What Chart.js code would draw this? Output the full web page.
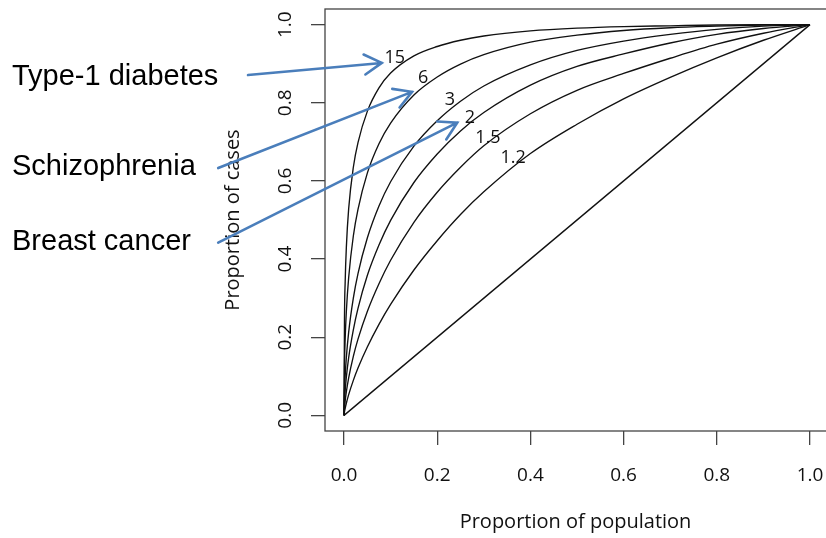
<!DOCTYPE html>
<html>
<head>
<meta charset="utf-8">
<script src="https://cdn.jsdelivr.net/npm/chart.js@4"></script>
<style>
  body { margin: 0; background: #fff; }
  canvas { display: block; }
</style>
</head>
<body>
<canvas id="roc" width="826" height="538"></canvas>
<script>
// proportion of population (x) and proportion of cases (y) for each curve
const popFraction = [0, 0.001, 0.0025, 0.005, 0.01, 0.02, 0.03, 0.05, 0.075, 0.1, 0.15, 0.2, 0.25, 0.3, 0.4, 0.5, 0.6, 0.7, 0.8, 0.9, 1];
const cases15  = [0, 0.245, 0.342, 0.43, 0.529, 0.635, 0.698, 0.778, 0.838, 0.876, 0.92, 0.944, 0.96, 0.971, 0.984, 0.991, 0.995, 0.997, 0.999, 1, 1];
const cases6   = [0, 0.127, 0.196, 0.266, 0.353, 0.459, 0.527, 0.62, 0.695, 0.748, 0.82, 0.866, 0.899, 0.923, 0.955, 0.973, 0.985, 0.992, 0.996, 0.999, 1];
const cases3   = [0, 0.059, 0.101, 0.148, 0.213, 0.3, 0.363, 0.454, 0.536, 0.598, 0.689, 0.754, 0.804, 0.843, 0.897, 0.934, 0.958, 0.975, 0.988, 0.996, 1];
const cases2   = [0, 0.035, 0.063, 0.0975, 0.148, 0.219, 0.274, 0.358, 0.436, 0.499, 0.596, 0.669, 0.728, 0.775, 0.845, 0.893, 0.925, 0.953, 0.975, 0.99, 1];
const cases1_5 = [0, 0.019, 0.037, 0.06, 0.096, 0.151, 0.195, 0.266, 0.337, 0.397, 0.494, 0.571, 0.635, 0.69, 0.772, 0.832, 0.875, 0.914, 0.95, 0.978, 1];
const cases1_2 = [0, 0.0087, 0.018, 0.031, 0.053, 0.0895, 0.121, 0.175, 0.233, 0.284, 0.372, 0.447, 0.514, 0.572, 0.67, 0.745, 0.81, 0.865, 0.915, 0.96, 1];
const diagX = [0, 1];
const diagY = [0, 1];

const tickValues = [0, 0.2, 0.4, 0.6, 0.8, 1.0];

// curve labels (text, x, y in data units)
const curveLabels = ['15', '6', '3', '2', '1.5', '1.2'];
const curveLabelX = [0.109, 0.170, 0.227, 0.270, 0.309, 0.363];
const curveLabelY = [0.915, 0.864, 0.807, 0.761, 0.710, 0.659];

// side notes with arrows (start and tip in data units)
const noteText = ['Type-1 diabetes', 'Schizophrenia', 'Breast cancer'];
const noteFromX = [-0.206, -0.270, -0.270];
const noteFromY = [0.871, 0.633, 0.442];
const noteToX = [0.081, 0.146, 0.243];
const noteToY = [0.902, 0.828, 0.749];

const curves = [cases15, cases6, cases3, cases2, cases1_5, cases1_2];

const datasets = curves.map(ys => ({
  data: popFraction.map((x, i) => ({ x: x, y: ys[i] })),
  showLine: true,
  borderColor: '#111',
  borderWidth: 1.35,
  pointRadius: 0,
  cubicInterpolationMode: 'monotone'
}));
datasets.push({
  data: diagX.map((x, i) => ({ x: x, y: diagY[i] })),
  showLine: true,
  borderColor: '#111',
  borderWidth: 1.35,
  pointRadius: 0
});

const axisFont = { family: 'Open Sans', size: 19 };
const titleFont = { family: 'Open Sans', size: 20 };

const extras = {
  id: 'extras',
  afterDraw(chart) {
    const { ctx, chartArea: a, scales: { x, y } } = chart;
    ctx.save();
    // box (R pads the data range by 4%, the right edge falls off the canvas)
    const boxRight = x.getPixelForValue(1.04);
    ctx.strokeStyle = '#444';
    ctx.lineWidth = 1.3;
    ctx.strokeRect(a.left, a.top, boxRight - a.left, a.bottom - a.top);

    // y tick labels, rotated like R's las=0
    ctx.fillStyle = '#111';
    ctx.font = '19px "Open Sans"';
    ctx.textAlign = 'center';
    ctx.textBaseline = 'middle';
    y.ticks.forEach(t => {
      ctx.save();
      ctx.translate(a.left - 39, y.getPixelForValue(t.value));
      ctx.rotate(-Math.PI / 2);
      ctx.fillText(t.value.toFixed(1), 0, 0);
      ctx.restore();
    });

    // curve labels
    ctx.font = '18px "Open Sans"';
    curveLabels.forEach((txt, i) => {
      ctx.fillText(txt, x.getPixelForValue(curveLabelX[i]), y.getPixelForValue(curveLabelY[i]));
    });

    // notes and arrows
    ctx.font = '29px "Liberation Sans", Arial, sans-serif';
    ctx.textAlign = 'left';
    ctx.textBaseline = 'alphabetic';
    ctx.fillStyle = '#000';
    const noteBase = [85, 175, 250];
    noteText.forEach((txt, i) => ctx.fillText(txt, 12, noteBase[i]));

    ctx.strokeStyle = '#4a7ebb';
    ctx.lineWidth = 2.6;
    ctx.lineCap = 'round';
    noteText.forEach((txt, i) => {
      const x0 = x.getPixelForValue(noteFromX[i]), y0 = y.getPixelForValue(noteFromY[i]);
      const x1 = x.getPixelForValue(noteToX[i]), y1 = y.getPixelForValue(noteToY[i]);
      const ang = Math.atan2(y0 - y1, x0 - x1);
      const len = 20, spread = Math.PI / 6;
      ctx.beginPath();
      ctx.moveTo(x0, y0);
      ctx.lineTo(x1, y1);
      ctx.moveTo(x1 + len * Math.cos(ang + spread), y1 + len * Math.sin(ang + spread));
      ctx.lineTo(x1, y1);
      ctx.lineTo(x1 + len * Math.cos(ang - spread), y1 + len * Math.sin(ang - spread));
      ctx.stroke();
    });
    ctx.restore();
  }
};

new Chart(document.getElementById('roc').getContext('2d'), {
  type: 'scatter',
  data: { datasets: datasets },
  options: {
    responsive: false,
    animation: false,
    layout: { padding: { left: 221, top: 9, right: 0, bottom: 0 } },
    plugins: { legend: { display: false }, tooltip: { enabled: false } },
    scales: {
      x: {
        type: 'linear',
        min: -0.0408,
        max: 1.0343,
        afterBuildTicks: s => { s.ticks = tickValues.map(v => ({ value: v })); },
        afterFit: s => { s.height = 107; s.paddingLeft = 0; s.paddingRight = 0; },
        grid: { drawOnChartArea: false, drawTicks: true, tickLength: 14, color: '#444', lineWidth: 1.3 },
        border: { display: false },
        ticks: { font: axisFont, color: '#111', padding: 19, callback: v => v.toFixed(1) },
        title: { display: true, text: 'Proportion of population', font: titleFont, color: '#111', padding: { top: 0, bottom: 4 } }
      },
      y: {
        type: 'linear',
        min: -0.04,
        max: 1.04,
        afterBuildTicks: s => { s.ticks = tickValues.map(v => ({ value: v })); },
        afterFit: s => { s.width = 104; s.paddingTop = 0; s.paddingBottom = 0; },
        grid: { drawOnChartArea: false, drawTicks: true, tickLength: 14, color: '#444', lineWidth: 1.3 },
        border: { display: false },
        ticks: { display: false },
        title: { display: true, text: 'Proportion of cases', font: titleFont, color: '#111', padding: 0 }
      }
    }
  },
  plugins: [extras]
});
</script>
</body>
</html>
